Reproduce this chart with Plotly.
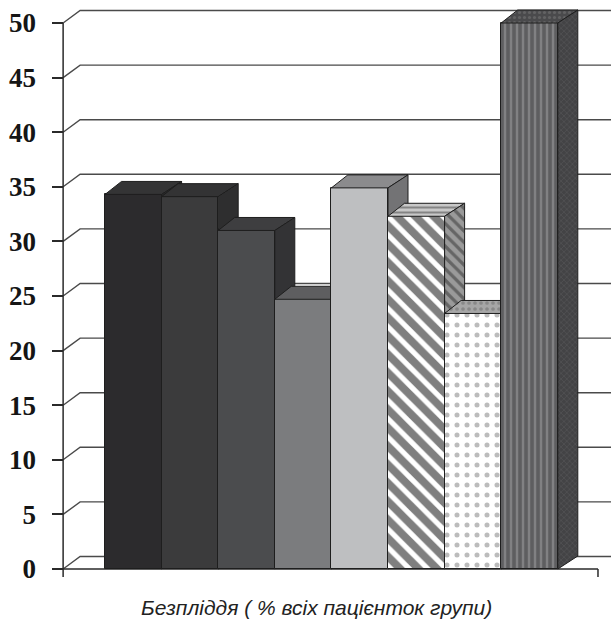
import plotly.graph_objects as go

# --- data -------------------------------------------------------------
groups = ["Група 1", "Група 2", "Група 3", "Група 4",
          "Група 5", "Група 6", "Група 7", "Група 8"]
values = [34.3, 34.1, 31.0, 24.7, 34.9, 32.3, 23.4, 50.0]
y_ticks = [0, 5, 10, 15, 20, 25, 30, 35, 40, 45, 50]
x_title = "Безпліддя ( % всіх пацієнток групи)"

# --- per-bar styling: front / top / side faces ------------------------
front_style = [
    dict(color="#2c2b2d"),
    dict(color="#3b3b3c"),
    dict(color="#4b4c4e"),
    dict(color="#7b7c7e"),
    dict(color="#bebfc1"),
    dict(color="#ffffff", pattern=dict(shape="\\", fgcolor="#000000", bgcolor="#ffffff",
                                       size=13, solidity=0.6)),
    dict(color="#ffffff", pattern=dict(shape=".", fgcolor="#7a7a7a", bgcolor="#ffffff",
                                       size=10, solidity=0.2)),
    dict(color="#5e5e60", pattern=dict(shape="|", fgcolor="#a4a4a6", bgcolor="#5e5e60",
                                       size=6, solidity=0.4)),
]
top_style = [
    dict(color="#343435"), dict(color="#333334"), dict(color="#3e3e40"),
    dict(color="#5e5e60"), dict(color="#8b8b8d"),
    dict(color="#c8c8c8", pattern=dict(shape="-", fgcolor="#404040", bgcolor="#c8c8c8",
                                       size=5, solidity=0.4)),
    dict(color="#a6a6a6", pattern=dict(shape=".", fgcolor="#6a6a6a", bgcolor="#a6a6a6",
                                       size=6, solidity=0.3)),
    dict(color="#4a4a4c", pattern=dict(shape=".", fgcolor="#7a7a7a", bgcolor="#4a4a4c",
                                       size=5, solidity=0.3)),
]
side_style = [
    dict(color="#2a2a2b"), dict(color="#2e2e2f"), dict(color="#333335"),
    dict(color="#505052"), dict(color="#737375"),
    dict(color="#9a9a9a", pattern=dict(shape="\\", fgcolor="#303030", bgcolor="#9a9a9a",
                                       size=8, solidity=0.4)),
    dict(color="#8a8a8a", pattern=dict(shape=".", fgcolor="#5a5a5a", bgcolor="#8a8a8a",
                                       size=6, solidity=0.3)),
    dict(color="#434345", pattern=dict(shape="x", fgcolor="#666668", bgcolor="#434345",
                                       size=4, solidity=0.3)),
]
edge = "#1e1e1e"

# --- geometry (pixel scale of the canvas) -----------------------------
W, H = 611, 624
ML, MT, MB = 52, 0, 44
plot_w, plot_h = W - ML, H - MT - MB
px_x = 56.6          # pixels per bar width
px_y = 10.92         # pixels per value unit
bar_left_px, zero_px = 105, 569

x_lo = -0.5 - (bar_left_px - ML) / px_x
x_hi = x_lo + plot_w / px_x
y_lo = -(MT + plot_h - zero_px) / px_y
y_hi = y_lo + plot_h / px_y

floor_left = -0.5 - 0.74
floor_right = 7.5 + 0.71
wall_dx, wall_dy = 17 / px_x, 12.5 / px_y        # depth of walls/floor
bar_dxl, bar_dxr, bar_dy = 16.5 / px_x, 20 / px_x, 13 / px_y   # depth of bars

fig = go.Figure()

# back wall gridlines with the diagonal on the side wall
gx, gy = [], []
for t in y_ticks:
    gx += [floor_left, floor_left + wall_dx, x_hi + 1, None]
    gy += [t, t + wall_dy, t + wall_dy, None]
fig.add_trace(go.Scatter(x=gx, y=gy, mode="lines", hoverinfo="skip",
                         line=dict(color="#4a4a4a", width=1.4), showlegend=False))

# front value axis and floor edge with end ticks
tick_down = -8 / px_y
fig.add_trace(go.Scatter(
    x=[floor_left, floor_left, None, floor_left, floor_right, None,
       floor_left, floor_left, None, floor_right, floor_right],
    y=[0, y_ticks[-1], None, 0, 0, None, 0, tick_down, None, 0, tick_down],
    mode="lines", hoverinfo="skip", line=dict(color="#2a2a2a", width=1.5),
    showlegend=False))


def poly(style, xs, ys, xa, ya):
    kw = dict(fill="toself", fillcolor=style["color"], mode="lines",
              line=dict(color=edge, width=1), hoverinfo="skip",
              showlegend=False, xaxis=xa, yaxis=ya, x=xs, y=ys)
    if "pattern" in style:
        kw["fillpattern"] = style["pattern"]
    return go.Scatter(**kw)


layout_axes = {}
for i, (g, v) in enumerate(zip(groups, values)):
    n = i + 2
    xa, ya = f"x{n}", f"y{n}"
    fs = front_style[i]
    marker = dict(color=fs["color"], line=dict(color=edge, width=1))
    if "pattern" in fs:
        marker["pattern"] = fs["pattern"]
    fig.add_trace(go.Bar(x=[i], y=[v], width=1, name=g, marker=marker,
                         xaxis=xa, yaxis=ya, showlegend=False))
    xl, xr = i - 0.5, i + 0.5
    # top face
    fig.add_trace(poly(top_style[i],
                       [xl, xr, xr + bar_dxr, xl + bar_dxl, xl],
                       [v, v, v + bar_dy, v + bar_dy, v], xa, ya))
    # right side face
    fig.add_trace(poly(side_style[i],
                       [xr, xr + bar_dxr, xr + bar_dxr, xr, xr],
                       [0, bar_dy, v + bar_dy, v, 0], xa, ya))
    layout_axes[f"xaxis{n}"] = dict(overlaying="x", anchor=ya, range=[x_lo, x_hi],
                                    visible=False, fixedrange=True)
    layout_axes[f"yaxis{n}"] = dict(overlaying="y", anchor=xa, range=[y_lo, y_hi],
                                    visible=False, fixedrange=True)

fig.update_layout(
    width=W, height=H,
    margin=dict(l=ML, r=0, t=MT, b=MB, pad=0),
    paper_bgcolor="white", plot_bgcolor="white",
    showlegend=False, bargap=0,
    xaxis=dict(range=[x_lo, x_hi], visible=False, fixedrange=True),
    yaxis=dict(range=[y_lo, y_hi], tickvals=y_ticks, ticks="inside", ticklen=11,
               tickwidth=1.5, tickcolor="#2a2a2a", showgrid=False, zeroline=False,
               showline=False, ticklabelstandoff=15, fixedrange=True,
               tickfont=dict(family="Liberation Serif", size=27, weight="bold",
                             color="#151515")),
    annotations=[dict(text=x_title, xref="paper", yref="paper",
                      x=(316 - ML) / plot_w, y=-(607 - plot_h) / plot_h,
                      xanchor="center", yanchor="middle", showarrow=False,
                      font=dict(family="Liberation Sans", size=21, style="italic",
                                color="#222222"))],
    **layout_axes,
)

fig.write_html("out.html")
